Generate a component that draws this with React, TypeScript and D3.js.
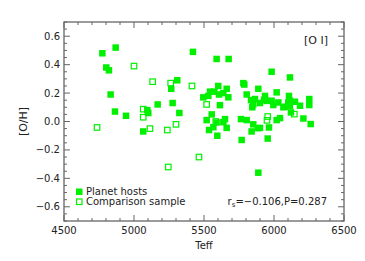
import React from "react";
import * as d3 from "d3";

const hostTeff = [4774,4869,4802,4821,4833,4864,4943,5095,5102,5169,5276,5309,5266,5324,5066,5421,
  5590,5676,5602,5543,5662,5495,5607,5674,5614,5781,5788,5805,5888,5936,5836,5852,5900,5948,
  5555,5519,5590,5650,5536,5595,5662,5764,5805,5852,5900,5840,5769,5955,
  5983,6114,6019,5983,6031,5995,6107,6114,6150,6079,6114,6186,6252,6252,6121,6043,6019,6210,6262,5964,5888,
  5574,5638,5864,5567,5638,5883,5531,5845,5929,6102,6067];
const hostOH = [0.48,0.52,0.38,0.36,0.19,0.07,0.04,0.08,0.06,0.12,0.13,0.29,0.23,0.06,-0.07,0.49,
  0.44,0.44,0.25,0.21,0.23,0.17,0.19,0.17,0.115,0.27,0.26,0.19,0.23,0.18,0.15,0.12,0.13,0.145,
  0.05,0.01,-0.007,0.017,-0.06,-0.10,-0.045,0.017,0.01,-0.02,-0.045,-0.07,-0.13,-0.12,
  0.35,0.31,0.205,0.146,0.134,0.116,0.18,0.146,0.139,0.104,0.111,0.111,0.158,0.116,0.064,0.024,0.01,0.021,-0.018,-0.042,-0.36,
  0.21,0.2,0.158,-0.04,-0.005,-0.047,0.18,0.10,0.153,0.134,0.10];

const compTeff = [5000,4736,5133,5262,5414,5066,5066,5114,5238,5300,5245,5464,5519,5584,5955,5950,6145];
const compOH = [0.39,-0.042,0.28,0.27,0.25,0.087,0.03,-0.05,-0.06,-0.02,-0.32,-0.25,0.12,0.0,0.035,0.008,0.052];

const xTicks = [4500, 5000, 5500, 6000, 6500];
const yTicks = [-0.6, -0.4, -0.2, 0.0, 0.2, 0.4, 0.6];

const W = 365, H = 261;
const L = 64, R = 344, T = 22, B = 221;
const GREEN = "#00f000";
const AX = "#666";
const TXT = "#222";
const FONT = "DejaVu Sans, sans-serif";

export default function App() {
  const x = d3.scaleLinear().domain([4500, 6500]).range([L, R]);
  const y = d3.scaleLinear().domain([-0.7, 0.7]).range([B, T]);
  const xMinor = d3.range(4500, 6501, 100);
  const yMinor = d3.range(-0.7, 0.7001, 0.05);
  const s = 6.5;
  const so = 5.5;
  return (
    <svg width={W} height={H} style={{ position: "absolute", left: 0, top: 0, background: "#fff" }}>
      {xMinor.map((v, i) => {
        const major = Math.abs((v - 4500) % 500) < 1;
        const len = major ? 6 : 3;
        return (
          <g key={"xm" + i} stroke={AX} strokeWidth={1}>
            <line x1={x(v)} x2={x(v)} y1={B} y2={B - len} />
            <line x1={x(v)} x2={x(v)} y1={T} y2={T + len} />
          </g>
        );
      })}
      {yMinor.map((v, i) => {
        const major = Math.abs(Math.round(v * 100) % 20) < 0.5 && Math.abs(v) < 0.69;
        const len = major ? 6 : 3;
        return (
          <g key={"ym" + i} stroke={AX} strokeWidth={1}>
            <line x1={L} x2={L + len} y1={y(v)} y2={y(v)} />
            <line x1={R} x2={R - len} y1={y(v)} y2={y(v)} />
          </g>
        );
      })}
      <rect x={L} y={T} width={R - L} height={B - T} fill="none" stroke={AX} strokeWidth={1.3} />
      {xTicks.map((v) => (
        <text key={"xl" + v} x={x(v)} y={B + 13} textAnchor="middle" fontFamily={FONT} fontSize={10} fill={TXT}>
          {v}
        </text>
      ))}
      {yTicks.map((v) => (
        <text key={"yl" + v} x={L - 4} y={y(v) + 3.5} textAnchor="end" fontFamily={FONT} fontSize={10} fill={TXT}>
          {(v < 0 ? "\u2212" : "") + Math.abs(v).toFixed(1)}
        </text>
      ))}
      <text x={(L + R) / 2} y={B + 28} textAnchor="middle" fontFamily={FONT} fontSize={10} fill={TXT}>Teff</text>
      <text transform={`translate(27,${(T + B) / 2}) rotate(-90)`} textAnchor="middle" fontFamily={FONT} fontSize={11} fill={TXT}>[O/H]</text>
      <text x={328} y={44} textAnchor="end" fontFamily={FONT} fontSize={11} fill={TXT}>[O I]</text>
      {compTeff.map((t, i) => (
        <rect key={"c" + i} x={x(t) - so / 2} y={y(compOH[i]) - so / 2} width={so} height={so} fill="none" stroke={GREEN} strokeWidth={1.2} />
      ))}
      {hostTeff.map((t, i) => (
        <rect key={"h" + i} x={x(t) - s / 2} y={y(hostOH[i]) - s / 2} width={s} height={s} fill={GREEN} />
      ))}
      <rect x={76} y={188.5} width={s} height={s} fill={GREEN} />
      <text x={86} y={195} fontFamily={FONT} fontSize={10} fill={TXT}>Planet hosts</text>
      <rect x={76.5} y={199} width={so} height={so} fill="none" stroke={GREEN} strokeWidth={1.2} />
      <text x={86} y={205} fontFamily={FONT} fontSize={10} fill={TXT}>Comparison sample</text>
      <text x={327} y={205} textAnchor="end" fontFamily={FONT} fontSize={10} fill={TXT}>
        r<tspan fontSize={7} dy={2}>s</tspan><tspan dy={-2}>=−0.106,P=0.287</tspan>
      </text>
    </svg>
  );
}
